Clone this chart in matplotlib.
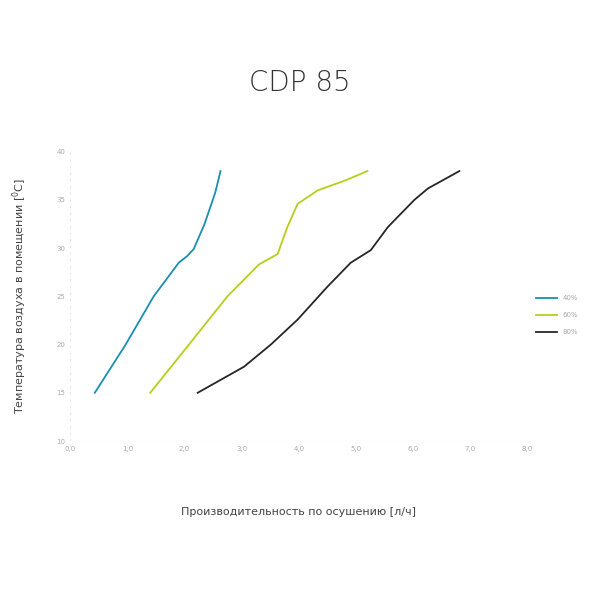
import matplotlib
matplotlib.use("Agg")
import matplotlib.pyplot as plt
from matplotlib.ticker import FuncFormatter

# --- данные ---
labels = ["40%", "60%", "80%"]
colors = ["#1a8fb0", "#b5cf1a", "#262626"]
x40 = [0.43, 0.97, 1.46, 1.75, 1.9, 2.05, 2.16, 2.35, 2.54, 2.63]
y40 = [15, 20, 25, 27.3, 28.5, 29.2, 29.9, 32.5, 35.8, 38]
x60 = [1.4, 2.05, 2.75, 3.3, 3.63, 3.8, 3.98, 4.33, 4.8, 5.2]
y60 = [15, 19.8, 25, 28.3, 29.4, 32.2, 34.6, 36, 37, 38]
x80 = [2.23, 3.04, 3.51, 3.98, 4.5, 4.91, 5.26, 5.56, 6.02, 6.26, 6.81]
y80 = [15, 17.7, 20, 22.6, 26, 28.5, 29.8, 32.2, 35, 36.2, 38]

fig = plt.figure(figsize=(6, 6), dpi=100)
ax = fig.add_axes([0.117, 0.265, 0.762, 0.482])
for xs, ys, c, l in zip([x40, x60, x80], [y40, y60, y80], colors, labels):
    ax.plot(xs, ys, color=c, lw=1.3, label=l, solid_joinstyle="round")

ax.set_xlim(0, 8)
ax.set_ylim(10, 40)
ax.set_xticks(range(0, 9))
ax.set_yticks(range(10, 41, 5))
ax.xaxis.set_major_formatter(FuncFormatter(lambda v, p: f"{v:.1f}".replace(".", ",")))
ax.tick_params(labelsize=5, colors="#aaaaaa", length=0)
for s in ax.spines.values():
    s.set_visible(False)
ax.axhline(10, color="#e6e6e6", lw=0.8)
ax.axvline(0, color="#e6e6e6", lw=0.8, ls=(0, (2, 4)))

ax.set_xlabel("Производительность по осушению [л/ч]", fontsize=8, color="#444444", labelpad=40)
ax.set_ylabel("Температура воздуха в помещении [$^0$C]", fontsize=8, color="#444444", labelpad=20)
fig.suptitle("CDP 85", fontsize=20, color="#333333", y=0.885, fontweight="light")
ax.legend(loc="center left", bbox_to_anchor=(1.005, 0.435), frameon=False, fontsize=5,
          handlelength=3, labelcolor="#aaaaaa", labelspacing=1.6)

fig.savefig("out.png", dpi=100)
